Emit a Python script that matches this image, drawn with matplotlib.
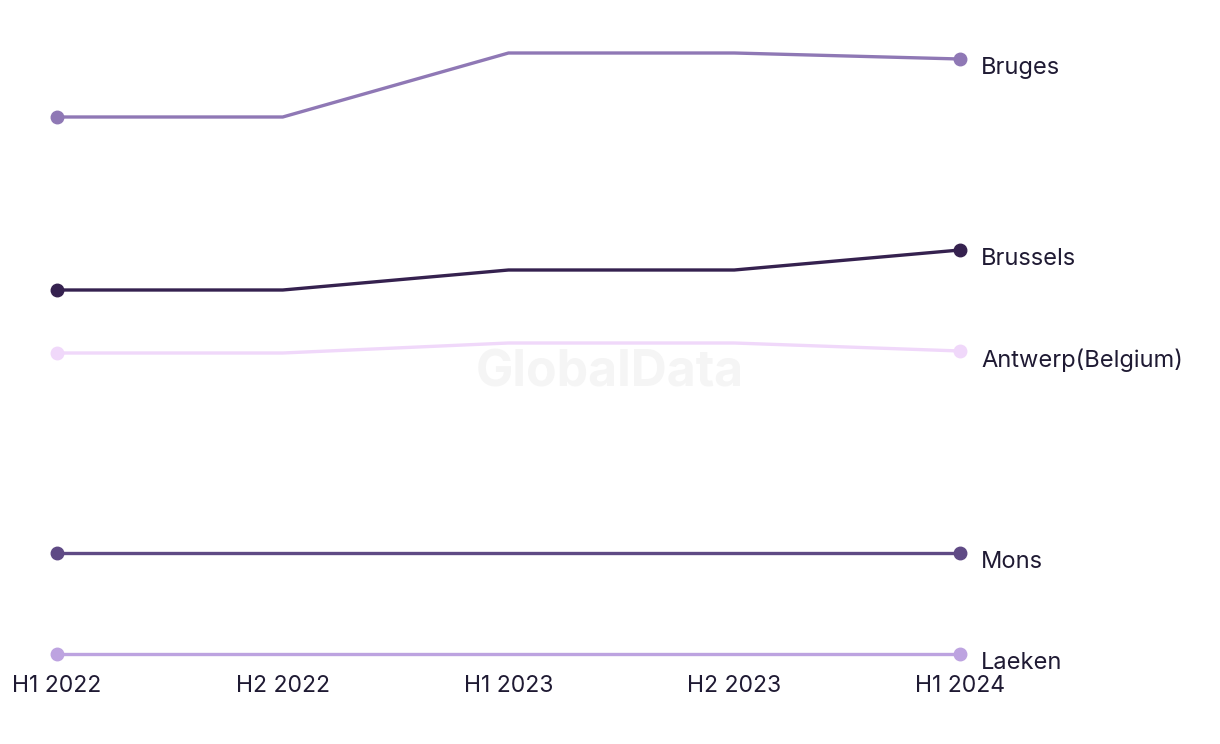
import matplotlib.pyplot as plt

# Data (arbitrary index scale)
periods = ["H1 2022", "H2 2022", "H1 2023", "H2 2023", "H1 2024"]
cities = ["Bruges", "Brussels", "Antwerp(Belgium)", "Mons", "Laeken"]
bruges = [53.7, 53.7, 60.1, 60.1, 59.5]
brussels = [36.4, 36.4, 38.4, 38.4, 40.4]
antwerp = [30.1, 30.1, 31.1, 31.1, 30.3]
mons = [10.1, 10.1, 10.1, 10.1, 10.1]
laeken = [0.0, 0.0, 0.0, 0.0, 0.0]

series = [bruges, brussels, antwerp, mons, laeken]
colors = ["#8f78b5", "#35214f", "#f0d8fa", "#5f4a85", "#bda3e0"]
text_color = "#1f1a33"

plt.rcParams['font.family'] = ['Inter', 'DejaVu Sans']

fig = plt.figure(figsize=(12.2, 7.44), dpi=100)
ax = fig.add_axes([0, 80 / 744, 1, 664 / 744])

x = list(range(len(periods)))

# Watermark
ax.text(2.45, 28.1, "GlobalData", ha="center", va="center", fontsize=36,
        fontweight="bold", color="#f5f5f5", zorder=0)

for name, vals, col in zip(cities, series, colors):
    ax.plot(x, vals, color=col, linewidth=2.4, solid_capstyle="round", zorder=2)
    ax.plot([x[0], x[-1]], [vals[0], vals[-1]], "o", color=col, markersize=9, zorder=3)
    ax.text(x[-1] + 0.093, vals[-1] - 0.9, name, ha="left", va="center",
            fontsize=17, color=text_color)

ax.set_xlim(-57 / 225.75, (1220 - 57) / 225.75)
ax.set_ylim(-1.0, 65.4)

ax.set_xticks(x)
ax.set_xticklabels(periods, fontsize=16.5, color=text_color)
ax.tick_params(axis="x", length=0, pad=8)
ax.set_yticks([])
for s in ax.spines.values():
    s.set_visible(False)

fig.savefig("out.png", dpi=100)
